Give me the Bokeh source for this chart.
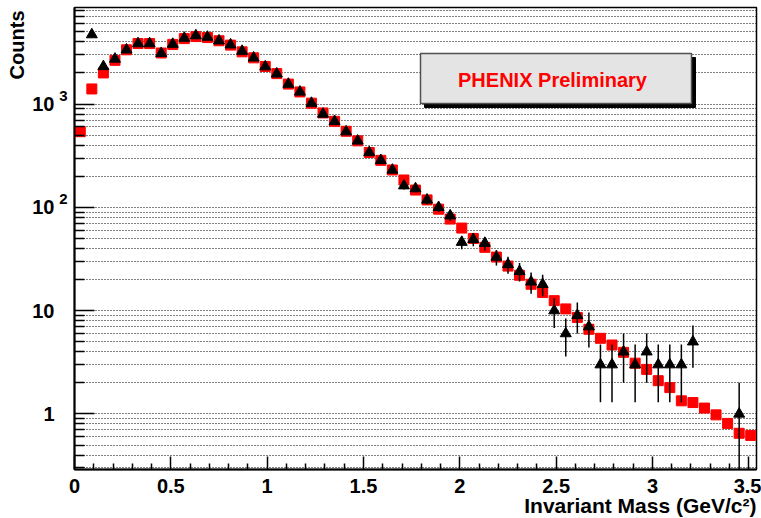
import math
from bokeh.plotting import figure
from bokeh.models import (FixedTicker, Label, BoxAnnotation, Range1d, ColumnDataSource,
                          LogAxis, Title)
from bokeh.embed import file_html
from bokeh.resources import INLINE

# ---------------- data ----------------
mass = [0.03, 0.09, 0.15, 0.21, 0.27, 0.33, 0.39, 0.45, 0.51, 0.57,
        0.63, 0.69, 0.75, 0.81, 0.87, 0.93, 0.99, 1.05, 1.11, 1.17,
        1.23, 1.29, 1.35, 1.41, 1.47, 1.53, 1.59, 1.65, 1.71, 1.77,
        1.83, 1.89, 1.95, 2.01, 2.07, 2.13, 2.19, 2.25, 2.31, 2.37,
        2.43, 2.49, 2.55, 2.61, 2.67, 2.73, 2.79, 2.85, 2.91, 2.97,
        3.03, 3.09, 3.15, 3.21, 3.27, 3.33, 3.39, 3.45, 3.51]

red_counts = [540, 1400, 2000, 2650, 3350, 3850, 3850, 3120, 3780, 4300,
              4500, 4400, 4100, 3720, 3200, 2800, 2310, 1970, 1560, 1310,
              1020, 820, 680, 545, 440, 340, 285, 230, 184, 147,
              118, 96, 77, 63, 50, 41, 33, 27, 22, 18,
              15, 12.5, 10.4, 8.6, 6.6, 5.4, 4.65, 3.95, 3.1, 2.7,
              2.1, 1.8, 1.34, 1.29, 1.14, 0.98, 0.81, 0.65, 0.62]

black_counts = [0, 4700, 2310, 2730, 3350, 3850, 3850, 3100, 3800, 4350,
                4600, 4450, 4100, 3750, 3250, 2800, 2300, 1960, 1560, 1310,
                1020, 800, 680, 540, 440, 340, 285, 230, 162, 152,
                118, 100, 83, 46, 49, 45, 33, 28, 24, 19,
                18, 10, 6, 9, 7, 3, 3, 4, 3, 4,
                3, 3, 3, 5, 0, 0, 0, 1, 0]

black_errors = [0, 69, 48, 52, 58, 62, 62, 56, 62, 66,
                68, 67, 64, 61, 57, 53, 48, 44, 39, 36,
                32, 28, 26, 23, 21, 18, 17, 15, 13, 12,
                11, 10, 9.1, 6.8, 7, 6.7, 5.7, 5.3, 4.9, 4.4,
                4.2, 3.2, 2.4, 3, 2.6, 1.7, 1.7, 2, 1.7, 2,
                1.7, 1.7, 1.7, 2.2, 0, 0, 0, 1, 0]

x_major_ticks = [0, 0.5, 1, 1.5, 2, 2.5, 3, 3.5]
x_tick_labels = ["0", "0.5", "1", "1.5", "2", "2.5", "3", "3.5"]
y_major_ticks = [1, 10, 100, 1000]
y_tick_labels = ["1", "10", "10", "10"]
y_tick_exponents = ["", "", "2", "3"]

x_title = "Invariant Mass (GeV/c\u00b2)"
y_title = "Counts"
box_text = "PHENIX Preliminary"

X_MIN, X_MAX = 0.0, 3.54
Y_MIN, Y_MAX = 0.29, 8600.0

# ---------------- figure ----------------
W, H = 761, 518
ML, MR, MT, MB = 74, 5, 7, 49
FW, FH = W - ML - MR, H - MT - MB
FONT = "Liberation Sans"


def px_to_x(px):
    return X_MIN + (px - ML) / FW * (X_MAX - X_MIN)


def py_to_y(py):
    lo, hi = math.log10(Y_MIN), math.log10(Y_MAX)
    return 10 ** (hi - (py - MT) / FH * (hi - lo))


p = figure(width=W, height=H, y_axis_type="log",
           x_range=Range1d(X_MIN, X_MAX), y_range=Range1d(Y_MIN, Y_MAX),
           output_backend="svg", toolbar_location=None,
           min_border_left=ML, min_border_right=MR,
           min_border_top=MT, min_border_bottom=MB)
p.background_fill_color = "white"
p.border_fill_color = "white"
p.outline_line_color = "black"
p.outline_line_width = 1.5


def hide_axis_parts(ax):
    ax.axis_line_color = None
    ax.major_tick_line_color = None
    ax.minor_tick_line_color = None
    ax.major_tick_in = 0
    ax.major_tick_out = 0
    ax.minor_tick_in = 0
    ax.minor_tick_out = 0


# x axis
x_minor = [round(0.1 * i, 2) for i in range(0, 36) if i % 5 != 0]
xa = p.xaxis[0]
xa.ticker = FixedTicker(ticks=x_major_ticks, minor_ticks=x_minor)
xa.major_label_overrides = {t: l for t, l in zip(x_major_ticks, x_tick_labels)}
xa.major_tick_in = 13
xa.major_tick_out = 0
xa.minor_tick_in = 6
xa.minor_tick_out = 0
xa.major_label_standoff = 9
xa.major_label_text_font = FONT
xa.major_label_text_font_style = "bold"
xa.major_label_text_font_size = "20px"
xa.major_label_text_color = "black"
xa.axis_line_width = 2
xa.axis_line_color = "black"
xa.major_tick_line_width = 1.5
xa.minor_tick_line_width = 1.5
xa.major_tick_line_color = "black"
xa.minor_tick_line_color = "black"
p.xgrid.visible = False

# y ticks
y_minor = []
for dec in [0.1, 1, 10, 100, 1000]:
    for m in range(2, 10):
        y_minor.append(dec * m)
yt = FixedTicker(ticks=y_major_ticks, minor_ticks=y_minor)

# inner y axis: frame line, ticks and the superscript exponents
ya = p.yaxis[0]
ya.ticker = yt
ya.major_label_overrides = {t: (e + "\n " if e else "") for t, e in zip(y_major_ticks, y_tick_exponents)}
ya.major_tick_in = 20
ya.major_tick_out = 0
ya.minor_tick_in = 10
ya.minor_tick_out = 0
ya.major_label_standoff = 7
ya.major_label_text_font = FONT
ya.major_label_text_font_style = "bold"
ya.major_label_text_font_size = "15px"
ya.major_label_text_line_height = 1.0
ya.major_label_text_color = "black"
ya.axis_line_width = 2
ya.axis_line_color = "black"
ya.major_tick_line_width = 1.5
ya.minor_tick_line_width = 1.5
ya.major_tick_line_color = "black"
ya.minor_tick_line_color = "black"

# outer y axis: the mantissa labels
ya2 = LogAxis(ticker=yt)
ya2.major_label_overrides = {t: l for t, l in zip(y_major_ticks, y_tick_labels)}
hide_axis_parts(ya2)
ya2.major_label_standoff = 2
ya2.major_label_text_font = FONT
ya2.major_label_text_font_style = "bold"
ya2.major_label_text_font_size = "20px"
ya2.major_label_text_color = "black"
p.add_layout(ya2, "left")

# axis titles, aligned to the far end of each axis as in ROOT
p.add_layout(Title(text=x_title, align="right", vertical_align="top",
                   standoff=-4, offset=0, text_font=FONT, text_font_style="bold",
                   text_font_size="21px", text_color="black"), "below")
p.add_layout(Title(text=y_title, align="right", vertical_align="bottom",
                   standoff=4, offset=3, text_font=FONT, text_font_style="bold",
                   text_font_size="20px", text_color="black"), "left")

p.ygrid.ticker = yt
p.ygrid.grid_line_color = "black"
p.ygrid.grid_line_dash = "1 2"
p.ygrid.grid_line_width = 1.2
p.ygrid.minor_grid_line_color = "black"
p.ygrid.minor_grid_line_dash = "1 2"
p.ygrid.minor_grid_line_width = 1.2

# ---------------- PHENIX box ----------------
bx0, bx1, by0, by1 = 420, 691, 53, 103
shadow = 4
p.add_layout(BoxAnnotation(left=px_to_x(bx0 + shadow), right=px_to_x(bx1 + shadow),
                           top=py_to_y(by0 + shadow), bottom=py_to_y(by1 + shadow),
                           fill_color="black", fill_alpha=1.0, line_color="black",
                           line_alpha=1.0, level="annotation"))
p.add_layout(BoxAnnotation(left=px_to_x(bx0), right=px_to_x(bx1),
                           top=py_to_y(by0), bottom=py_to_y(by1),
                           fill_color="#e4e4e4", fill_alpha=1.0, line_color="#505050",
                           line_width=1.5, line_alpha=1.0, level="annotation"))
p.add_layout(Label(x=px_to_x(552), y=py_to_y(79), text=box_text,
                   text_align="center", text_baseline="middle",
                   text_font=FONT, text_font_style="bold", text_font_size="20px",
                   text_color="#ff0000"))

# ---------------- data glyphs ----------------
red_src = ColumnDataSource(dict(x=mass, y=red_counts))
p.scatter("x", "y", source=red_src, marker="square", size=10,
          fill_color="#ff0000", line_color="#ff0000")

bx, by, blo, bhi = [], [], [], []
for m, c, e in zip(mass, black_counts, black_errors):
    if c > 0:
        bx.append(m)
        by.append(c)
        blo.append(max(c - e, 1e-3))
        bhi.append(c + e)
blk_src = ColumnDataSource(dict(x=bx, y=by, lo=blo, hi=bhi))
p.segment(x0="x", y0="lo", x1="x", y1="hi", source=blk_src,
          line_color="black", line_width=1.5)
p.scatter("x", "y", source=blk_src, marker="triangle", size=11,
          fill_color="black", line_color="black")

open("out.html", "w").write(file_html(p, INLINE))
